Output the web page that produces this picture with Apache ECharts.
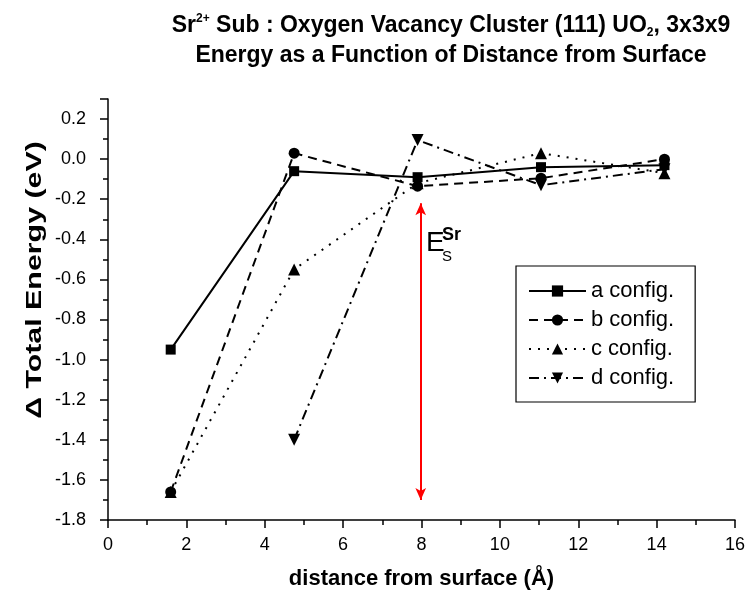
<!DOCTYPE html>
<html><head><meta charset="utf-8">
<script src="https://cdn.jsdelivr.net/npm/echarts@6/dist/echarts.min.js"></script>
<style>html,body{margin:0;padding:0;background:#fff}#c{width:749px;height:590px}</style>
</head><body><div id="c"></div>
<script>
const distances = [1.6, 4.75, 7.9, 11.05, 14.2];
const configA = [-0.95, -0.06, -0.09, -0.04, -0.03];
const configB = [-1.66, 0.03, -0.135, -0.095, 0.0];
const configC = [-1.66, -0.55, -0.12, 0.03, -0.07];
const configD = [null, -1.40, 0.095, -0.13, -0.05];
const seriesNames = ['a config.', 'b config.', 'c config.', 'd config.'];
const arrowX = 7.98;
const arrowY = [-0.22, -1.70];
const xRange = [0, 16, 2];
const yRange = [-1.8, 0.3, 0.2];

const FONT = 'Liberation Sans, Arial, sans-serif';
const pairs = vals => distances.map((d, i) => [d, vals[i]]).filter(p => p[1] !== null);
const downTri = 'path://M0,0 L10,0 L5,9 Z';
const styles = [
  {symbol: 'rect', size: 10, dash: 'solid'},
  {symbol: 'circle', size: 11, dash: [9, 6]},
  {symbol: 'triangle', size: 12, dash: [2, 7]},
  {symbol: downTri, size: 12, dash: [10, 5, 2, 5]}
];
const dataSets = [configA, configB, configC, configD];

const series = dataSets.map((vals, i) => ({
  name: seriesNames[i],
  type: 'line',
  data: pairs(vals),
  symbol: styles[i].symbol,
  symbolSize: styles[i].size,
  showAllSymbol: true,
  lineStyle: {color: '#000', width: 2, type: styles[i].dash},
  itemStyle: {color: '#000'},
  z: 3
}));
series.push({
  name: 'arrow',
  type: 'line',
  data: [],
  markLine: {
    silent: true,
    symbol: ['arrow', 'arrow'],
    symbolSize: [8, 12],
    label: {show: false},
    lineStyle: {color: '#ff0000', width: 2, type: 'solid'},
    data: [[{coord: [arrowX, arrowY[0]]}, {coord: [arrowX, arrowY[1]]}]]
  }
});

const chart = echarts.init(document.getElementById('c'));
chart.setOption({
  animation: false,
  backgroundColor: '#fff',
  textStyle: {fontFamily: FONT},
  title: {
    text: '{b|Sr}{sup|2+}{b| Sub : Oxygen Vacancy Cluster (111) UO}{sub|2}{b|, 3x3x9}\n{b|Energy as a Function of Distance from Surface}',
    left: 446, top: 6, textAlign: 'center',
    textStyle: {
      fontFamily: FONT, fontSize: 23, fontWeight: 'bold', color: '#000', lineHeight: 30,
      rich: {
        b: {fontFamily: FONT, fontSize: 23, fontWeight: 'bold', color: '#000', lineHeight: 30},
        sup: {fontFamily: FONT, fontSize: 12, fontWeight: 'bold', color: '#000', padding: [0, 0, 14, 0]},
        sub: {fontFamily: FONT, fontSize: 12, fontWeight: 'bold', color: '#000', padding: [14, 0, 0, 0]}
      }
    }
  },
  grid: {left: 108, right: 14, top: 99, bottom: 70, outerBoundsMode: 'none', containLabel: false},
  legend: {
    data: seriesNames,
    orient: 'vertical',
    left: 516, top: 266,
    padding: [14, 21, 13, 12],
    itemWidth: 57, itemHeight: 14, itemGap: 7,
    borderColor: '#000', borderWidth: 1.2,
    backgroundColor: '#fff',
    textStyle: {fontFamily: FONT, fontSize: 22, color: '#000', lineHeight: 22}
  },
  xAxis: {
    type: 'value', min: xRange[0], max: xRange[1], interval: xRange[2],
    name: 'distance from surface (Å)', nameLocation: 'middle', nameGap: 48,
    nameTextStyle: {fontFamily: FONT, fontSize: 22, fontWeight: 'bold', color: '#000'},
    axisLine: {onZero: false, lineStyle: {color: '#000', width: 1.5}},
    axisTick: {inside: false, length: 8, lineStyle: {color: '#000', width: 1.5}},
    minorTick: {show: true, splitNumber: 2, length: 5, lineStyle: {color: '#000', width: 1.5}},
    splitLine: {show: false},
    axisLabel: {fontFamily: FONT, fontSize: 18, color: '#000', margin: 16}
  },
  yAxis: {
    type: 'value', min: yRange[0], max: yRange[1], interval: yRange[2],
    axisLine: {onZero: false, lineStyle: {color: '#000', width: 1.5}},
    axisTick: {inside: false, length: 8, lineStyle: {color: '#000', width: 1.5}},
    minorTick: {show: true, splitNumber: 2, length: 5, lineStyle: {color: '#000', width: 1.5}},
    splitLine: {show: false},
    axisLabel: {fontFamily: FONT, fontSize: 18, color: '#000', margin: 22, showMaxLabel: false,
      formatter: v => v.toFixed(1)}
  },
  graphic: [
    {type: 'text', x: 35, y: 280, rotation: Math.PI / 2, scaleX: 1.38,
      style: {text: 'Δ Total Energy (eV)', fontFamily: FONT, fontSize: 22, fontWeight: 'bold', fill: '#000',
        align: 'center', verticalAlign: 'middle'}},
    {type: 'text', left: 426, top: 229, style: {text: 'E', fontFamily: FONT, fontSize: 28, fill: '#000'}},
    {type: 'text', left: 442, top: 226, style: {text: 'Sr', fontFamily: FONT, fontSize: 18, fontWeight: 'bold', fill: '#000'}},
    {type: 'text', left: 442, top: 249, style: {text: 'S', fontFamily: FONT, fontSize: 15, fill: '#000'}}
  ],
  series: series
});
</script></body></html>
